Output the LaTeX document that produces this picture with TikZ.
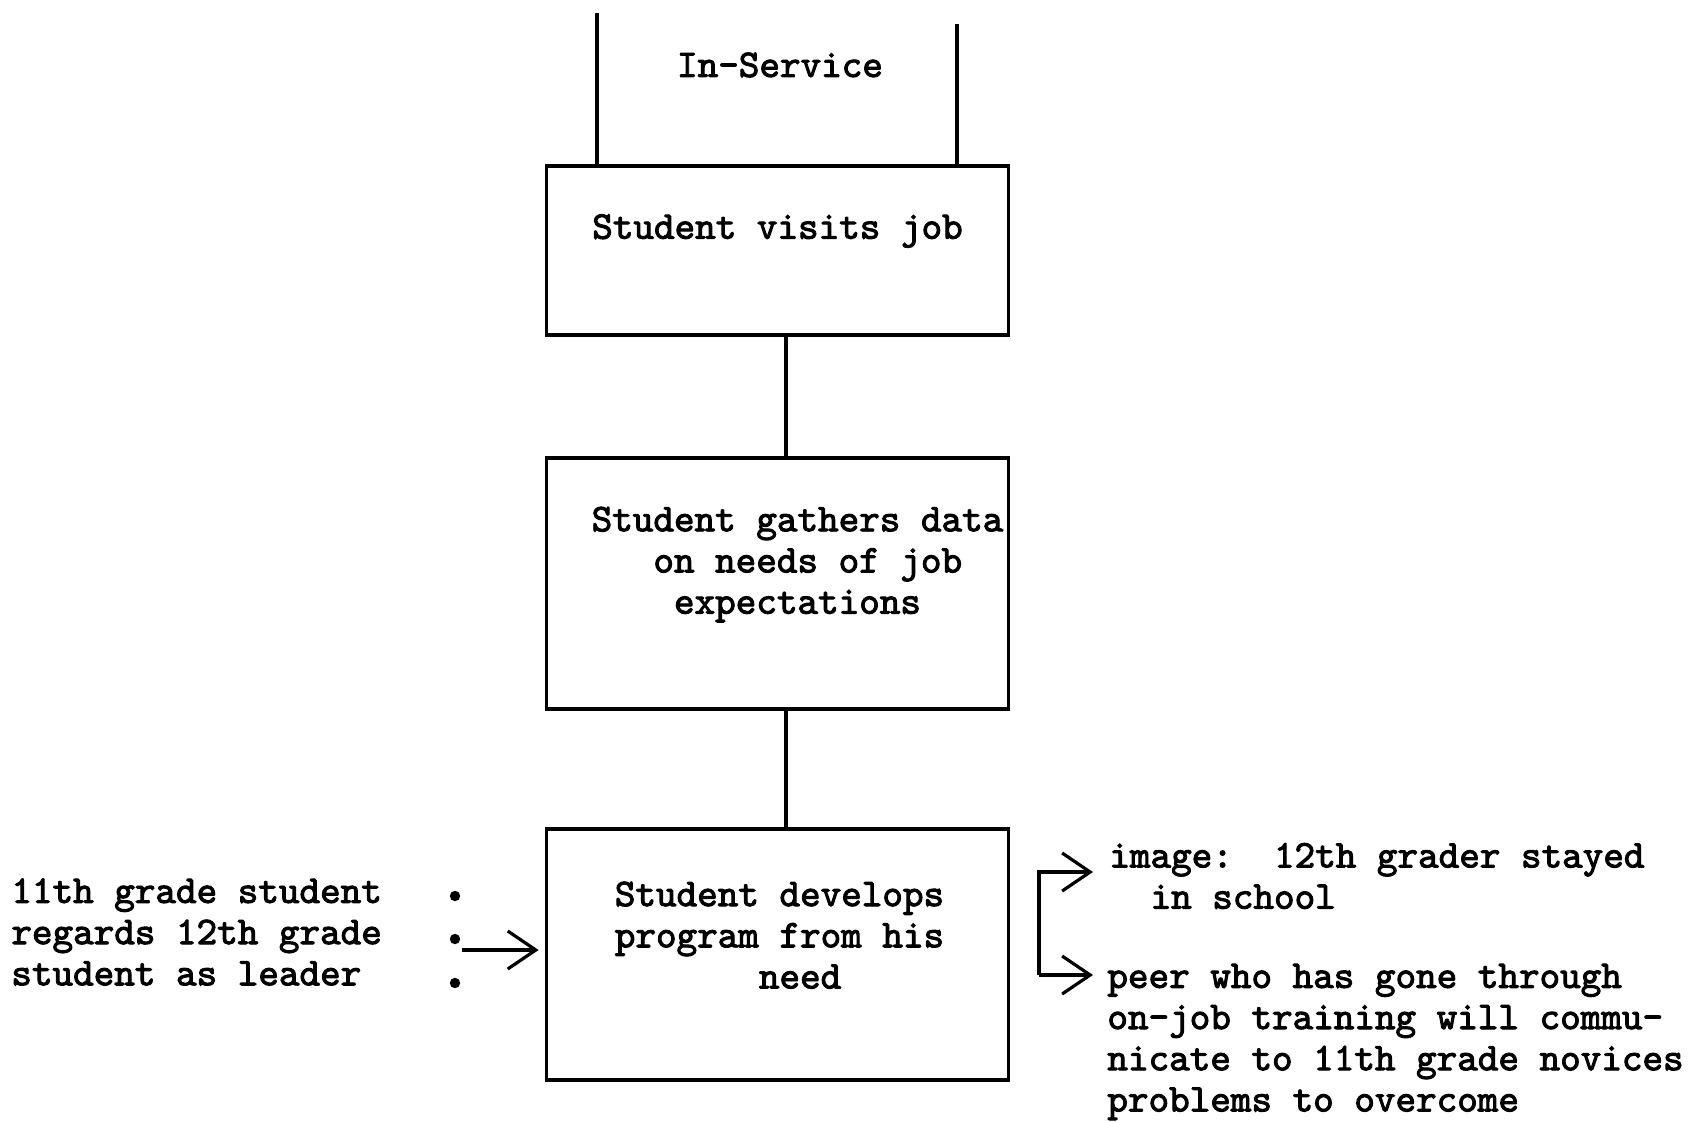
\documentclass[tikz,border=0pt]{standalone}
\usepackage{fontspec}
\usepackage{tikz}
\usetikzlibrary{arrows.meta,positioning}
\newfontfamily\typewr{lmmono10-regular.otf}[FakeBold=2.5]

\begin{document}
\begin{tikzpicture}[x=0.5pt,y=-0.5pt,node distance=59.4pt,
    every node/.style={font=\typewr\fontsize{19.6}{20.6}\selectfont},
    stepbox/.style={draw,line width=1.9pt,minimum width=231pt,inner sep=0pt},
    steptext/.style={inner sep=0pt,align=left},
    sidetext/.style={inner sep=0pt,align=left,anchor=west},
    link/.style={line width=1.9pt},
    feed/.style={-{Straight Barb[length=14pt,width=19pt]},line width=1.6pt}]
  \useasboundingbox (0,0) rectangle (1693,1121);

  % main column
  \node (insvc) at (780,65) {In-Service};
  \node[stepbox,minimum height=84.5pt] (visit) at (777.5,250.5) {};
  \node[stepbox,minimum height=125.5pt,below=of visit] (gather) {};
  \node[stepbox,minimum height=125.5pt,below=58.4pt of gather] (develop) {};
  \node[steptext] (visittxt) at ([yshift=9.75pt]visit.center) {Student visits job};
  \node[steptext] (gathertxt) at ([xshift=10pt,yshift=9.25pt]gather.center)
       {Student gathers data\\~~~on needs of job\\~~~~expectations};
  \node[steptext] (developtxt) at ([xshift=1pt,yshift=9.75pt]develop.center)
       {Student develops\\program from his\\~~~~~~~need};

  \coordinate (inL) at (597,13);
  \coordinate (inR) at (957,24);
  \draw[link] (inL) -- (inL |- visit.north);
  \draw[link] (inR) -- (inR |- visit.north);
  \draw[link] ([xshift=4.3pt]visit.south) -- ([xshift=4.3pt]gather.north);
  \draw[link] ([xshift=4.3pt]gather.south) -- ([xshift=4.3pt]develop.north);

  % left side
  \node[sidetext] (lead) at (11,932)
       {11th grade student\\regards 12th grade\\student as leader};
  \foreach \y in {896,939,983}
    \fill (455,\y) circle (2.6pt);
  \coordinate (leadarr) at (462,950);
  \draw[feed,shorten >=3pt] (leadarr) -- (leadarr -| develop.west);

  % right side
  \node[sidetext] (image) at (1109,876) {image:~~12th grader stayed\\~~in school};
  \node[sidetext] (peer) at (1107,1042)
       {peer who has gone through\\on-job training will commu-\\nicate to 11th grade novices\\problems to overcome};
  \coordinate (fork) at (1039,872);
  \coordinate (forkend) at (1039,975);
  \draw[feed,shorten >=8pt] (forkend) -- (fork) -- (fork -| image.west);
  \draw[feed,shorten >=7pt] (forkend) -- (forkend -| peer.west);
\end{tikzpicture}
\end{document}
